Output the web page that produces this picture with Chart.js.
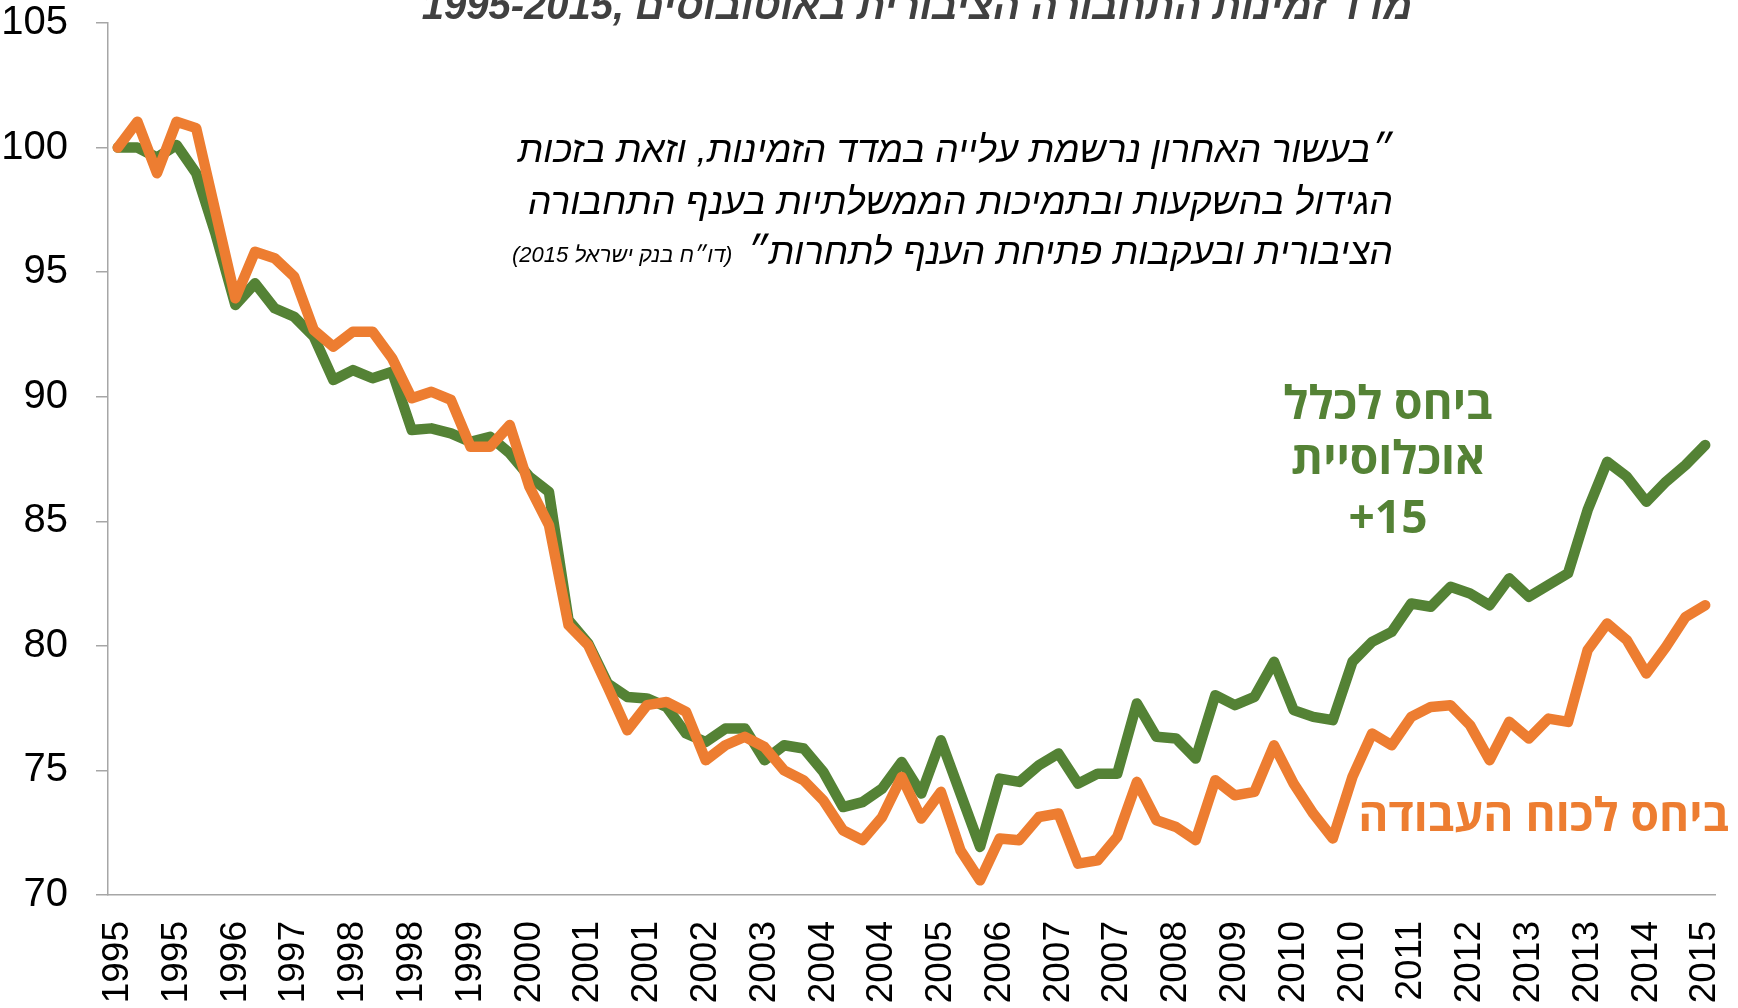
<!DOCTYPE html>
<html>
<head>
<meta charset="utf-8">
<script src="https://cdn.jsdelivr.net/npm/chart.js@4"></script>
<style>
  body { margin: 0; background: #fff; }
  #wrap { width: 1738px; height: 1008px; position: relative; }
</style>
</head>
<body>
<div id="wrap"><canvas id="grafico"></canvas></div>
<script>
// quarterly series, 1995 Q1 .. 2015 Q2 (index 1995 = 100)
var startYear = 1995;
var numQuarters = 82;

// x labels that are actually printed (one every third quarter)
var tickYears = ['1995','1995','1996','1997','1998','1998','1999','2000','2001','2001',
  '2002','2003','2004','2004','2005','2006','2007','2007','2008','2009',
  '2010','2010','2011','2012','2013','2013','2014','2015'];

// relative to labour force (orange)
var laborForce = [100.0, 101.04, 98.97, 101.04, 100.78, 97.37, 93.95, 95.82, 95.56, 94.82,
  92.68, 92.01, 92.61, 92.61, 91.54, 89.94, 90.2, 89.87, 87.99, 87.99,
  88.86, 86.39, 84.85, 80.83, 80.03, 78.35, 76.61, 77.62, 77.75, 77.35,
  75.41, 76.01, 76.35, 75.94, 75.0, 74.6, 73.8, 72.6, 72.2, 73.13,
  74.74, 73.07, 74.14, 71.79, 70.59, 72.27, 72.2, 73.13, 73.27, 71.26,
  71.39, 72.33, 74.54, 73.0, 72.73, 72.2, 74.61, 74.0, 74.14, 76.01,
  74.47, 73.27, 72.27, 74.74, 76.48, 76.01, 77.15, 77.55, 77.62, 76.82,
  75.41, 76.95, 76.28, 77.08, 76.95, 79.83, 80.90, 80.23, 78.89, 79.96,
  81.16, 81.63];

// relative to whole population 15+ (green)
var population15 = [100.0, 100.0, 99.6, 100.1, 98.97, 96.5, 93.68, 94.55, 93.55, 93.21,
  92.41, 90.67, 91.07, 90.74, 91.0, 88.66, 88.73, 88.53, 88.19, 88.39,
  87.73, 86.79, 86.18, 81.03, 80.10, 78.49, 77.95, 77.89, 77.55, 76.48,
  76.14, 76.68, 76.68, 75.41, 76.01, 75.88, 74.94, 73.53, 73.73, 74.27,
  75.34, 74.07, 76.21, 74.07, 71.93, 74.67, 74.54, 75.21, 75.68, 74.47,
  74.87, 74.87, 77.69, 76.35, 76.28, 75.48, 78.02, 77.62, 77.95, 79.36,
  77.42, 77.15, 77.02, 79.36, 80.16, 80.56, 81.70, 81.57, 82.37, 82.10,
  81.63, 82.71, 81.97, 82.44, 82.91, 85.45, 87.39, 86.79, 85.78, 86.59,
  87.26, 88.06];

var categorie = [];
for (var q = 0; q < numQuarters; q++) {
  categorie.push((startYear + Math.floor(q / 4)) + ' Q' + (q % 4 + 1));
}

var verde = '#548235';
var arancio = '#ED7D31';
var grigio = '#a6a6a6';

// texts drawn on top of the chart
var testi = {
  id: 'testi',
  afterDraw: function (chart) {
    var ctx = chart.ctx;
    ctx.save();
    ctx.direction = 'rtl';
    ctx.textBaseline = 'alphabetic';

    // title (cut by the top edge)
    ctx.fillStyle = '#404040';
    ctx.font = 'italic bold 40px "Liberation Sans", "DejaVu Sans", sans-serif';
    ctx.textAlign = 'center';
    ctx.fillText('מדד זמינות התחבורה הציבורית באוטובוסים ,1995-2015', 917, 19);

    // quote
    ctx.fillStyle = '#000';
    ctx.textAlign = 'right';
    ctx.font = 'italic 37px "Liberation Sans", "DejaVu Sans", sans-serif';
    ctx.fillText('״בעשור האחרון נרשמת עלייה במדד הזמינות, וזאת בזכות', 1393, 162);
    ctx.fillText('הגידול בהשקעות ובתמיכות הממשלתיות בענף התחבורה', 1393, 214);
    var riga3 = 'הציבורית ובעקבות פתיחת הענף לתחרות״';
    ctx.fillText(riga3, 1393, 264);
    var w3 = ctx.measureText(riga3).width;
    ctx.font = 'italic 22px "Liberation Sans", "DejaVu Sans", sans-serif';
    ctx.fillText('(דו״ח בנק ישראל 2015)', 1393 - w3 - 14, 262);

    // series labels
    ctx.font = 'bold 46px "Open Sans", "DejaVu Sans", sans-serif';
    ctx.fillStyle = verde;
    ctx.textAlign = 'center';
    ctx.fillText('ביחס לכלל', 1388, 419);
    ctx.fillText('אוכלוסיית', 1388, 474);
    ctx.direction = 'ltr';
    ctx.fillText('+15', 1388, 533);
    ctx.direction = 'rtl';

    ctx.fillStyle = arancio;
    ctx.textAlign = 'right';
    ctx.fillText('ביחס לכוח העבודה', 1729, 831);
    ctx.restore();
  }
};

var ctx = document.getElementById('grafico');
new Chart(ctx, {
  type: 'line',
  data: {
    labels: categorie,
    datasets: [{
      label: 'ביחס לכוח העבודה',
      data: laborForce,
      borderColor: arancio,
      borderWidth: 10.5,
      pointRadius: 0,
      borderJoinStyle: 'round',
      borderCapStyle: 'round',
      tension: 0
    }, {
      label: 'ביחס לכלל אוכלוסיית 15+',
      data: population15,
      borderColor: verde,
      borderWidth: 10.5,
      pointRadius: 0,
      borderJoinStyle: 'round',
      borderCapStyle: 'round',
      tension: 0
    }]
  },
  options: {
    responsive: true,
    maintainAspectRatio: false,
    animation: false,
    layout: { padding: { top: 23, right: 23, left: 0, bottom: 0 } },
    plugins: {
      legend: { display: false },
      tooltip: { enabled: false }
    },
    scales: {
      x: {
        offset: true,
        grid: { display: true, drawOnChartArea: false, drawTicks: false },
        border: { color: grigio, width: 1.5 },
        ticks: {
          autoSkip: false,
          maxRotation: 90,
          minRotation: 90,
          padding: 26,
          color: '#000',
          font: { family: '"Liberation Sans", Arial, sans-serif', size: 37 },
          callback: function (value, index) {
            return index % 3 === 0 ? tickYears[index / 3] : '';
          }
        },
        afterFit: function (s) {
          s.height = 113;
          s.paddingLeft = 0;
          s.paddingRight = 0;
        }
      },
      y: {
        min: 70,
        max: 105,
        grid: { drawOnChartArea: false, tickLength: 12, color: grigio, lineWidth: 1.5 },
        border: { color: grigio, width: 1.5 },
        ticks: {
          stepSize: 5,
          padding: 28,
          color: '#000',
          font: { family: '"Liberation Sans", Arial, sans-serif', size: 40 }
        },
        afterFit: function (s) {
          s.width = 108;
          s.paddingTop = 0;
          s.paddingBottom = 0;
        }
      }
    }
  },
  plugins: [testi]
});
</script>
</body>
</html>
